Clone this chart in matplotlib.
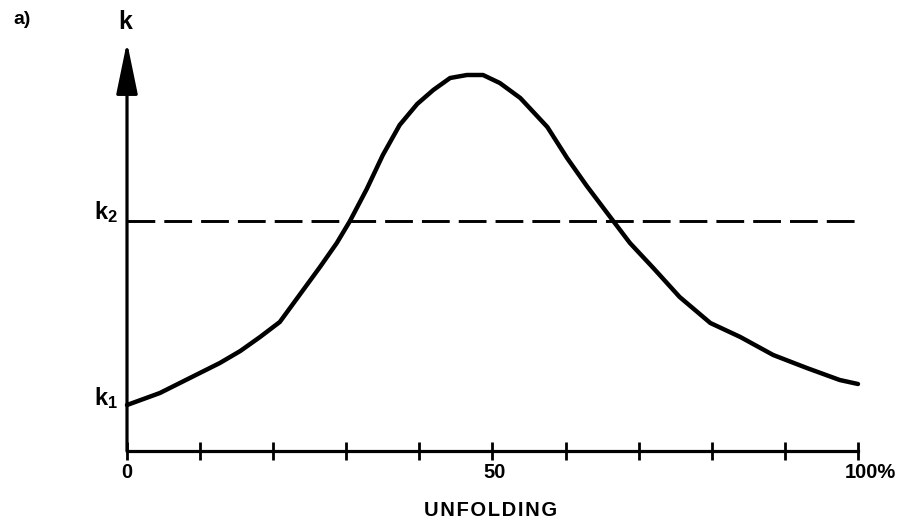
import numpy as np
import matplotlib.pyplot as plt

plt.rcParams['font.family'] = ['Liberation Sans', 'DejaVu Sans']
plt.rcParams['font.weight'] = 'bold'
plt.rcParams['mathtext.fontset'] = 'custom'
plt.rcParams['mathtext.bf'] = 'Liberation Sans:bold'
plt.rcParams['mathtext.rm'] = 'Liberation Sans:bold'
plt.rcParams['lines.scale_dashes'] = False

# rate constant k against degree of unfolding (%)
unfolding = [0, 4.5, 8.6, 12.7, 15.5, 18.2, 20.9, 22.7, 25.3, 26.4, 28.7, 30.5,
             32.8, 35.0, 37.3, 39.7, 41.9, 44.2, 46.5, 48.7, 51.0, 53.8, 57.5,
             60.2, 62.9, 66.1, 68.8, 72.0, 75.6, 79.8, 83.9, 88.4, 93.0, 97.5, 100]
k_rate = [0.46, 0.58, 0.73, 0.88, 1.00, 1.14, 1.29, 1.47, 1.73, 1.84, 2.08, 2.30,
          2.62, 2.96, 3.26, 3.47, 3.61, 3.73, 3.76, 3.76, 3.68, 3.53, 3.24,
          2.93, 2.65, 2.34, 2.08, 1.83, 1.54, 1.28, 1.14, 0.96, 0.83, 0.71, 0.67]
k1 = 0.46
k2 = 2.30
x_ticks = np.arange(0, 101, 10)

fig = plt.figure(figsize=(9.03, 5.24), dpi=100)
ax = fig.add_axes([127/903, 73/524, (858-127)/903, (451-42)/524])
ax.set_xlim(0, 100)
ax.set_ylim(0, 4.09)

for s in ['top', 'right', 'left']:
    ax.spines[s].set_visible(False)
ax.spines['bottom'].set_linewidth(2.3)
ax.set_xticks(x_ticks)
ax.set_xticklabels([])
ax.tick_params(axis='x', direction='inout', length=13, width=2)
ax.set_yticks([])

# y axis with arrow head
ax.annotate('', xy=(0, 4.09), xytext=(0, 0),
            arrowprops=dict(arrowstyle='-|>,head_length=1.6,head_width=0.33',
                            lw=2.3, color='black', mutation_scale=20,
                            shrinkA=0, shrinkB=0),
            annotation_clip=False)

ax.plot([x_ticks[0], x_ticks[-1]], [k2, k2], color='black', lw=2.1, dashes=(20, 6.5))
ax.plot(unfolding, k_rate, color='black', lw=3.2, solid_joinstyle='round',
        solid_capstyle='round', clip_on=False)

ax.text(-1.2, k2 + 0.09, r'$\mathbf{k_2}$', ha='right', va='center', fontsize=17)
ax.text(-1.2, k1 + 0.07, r'$\mathbf{k_1}$', ha='right', va='center', fontsize=17)
ax.text(-0.27, 4.29, 'k', ha='center', va='center', fontsize=18)
ax.text(-14.4, 4.32, 'a)', ha='center', va='center', fontsize=14)

ax.text(0, -0.22, '0', ha='center', va='center', fontsize=14.5)
ax.text(50.3, -0.22, '50', ha='center', va='center', fontsize=14.5)
ax.text(98.2, -0.22, '100%', ha='left', va='center', fontsize=14.5)
ax.text(49.8, -0.60, '\u200a'.join('UNFOLDING'), ha='center', va='center', fontsize=14.5)

fig.savefig('out.png', dpi=100)
